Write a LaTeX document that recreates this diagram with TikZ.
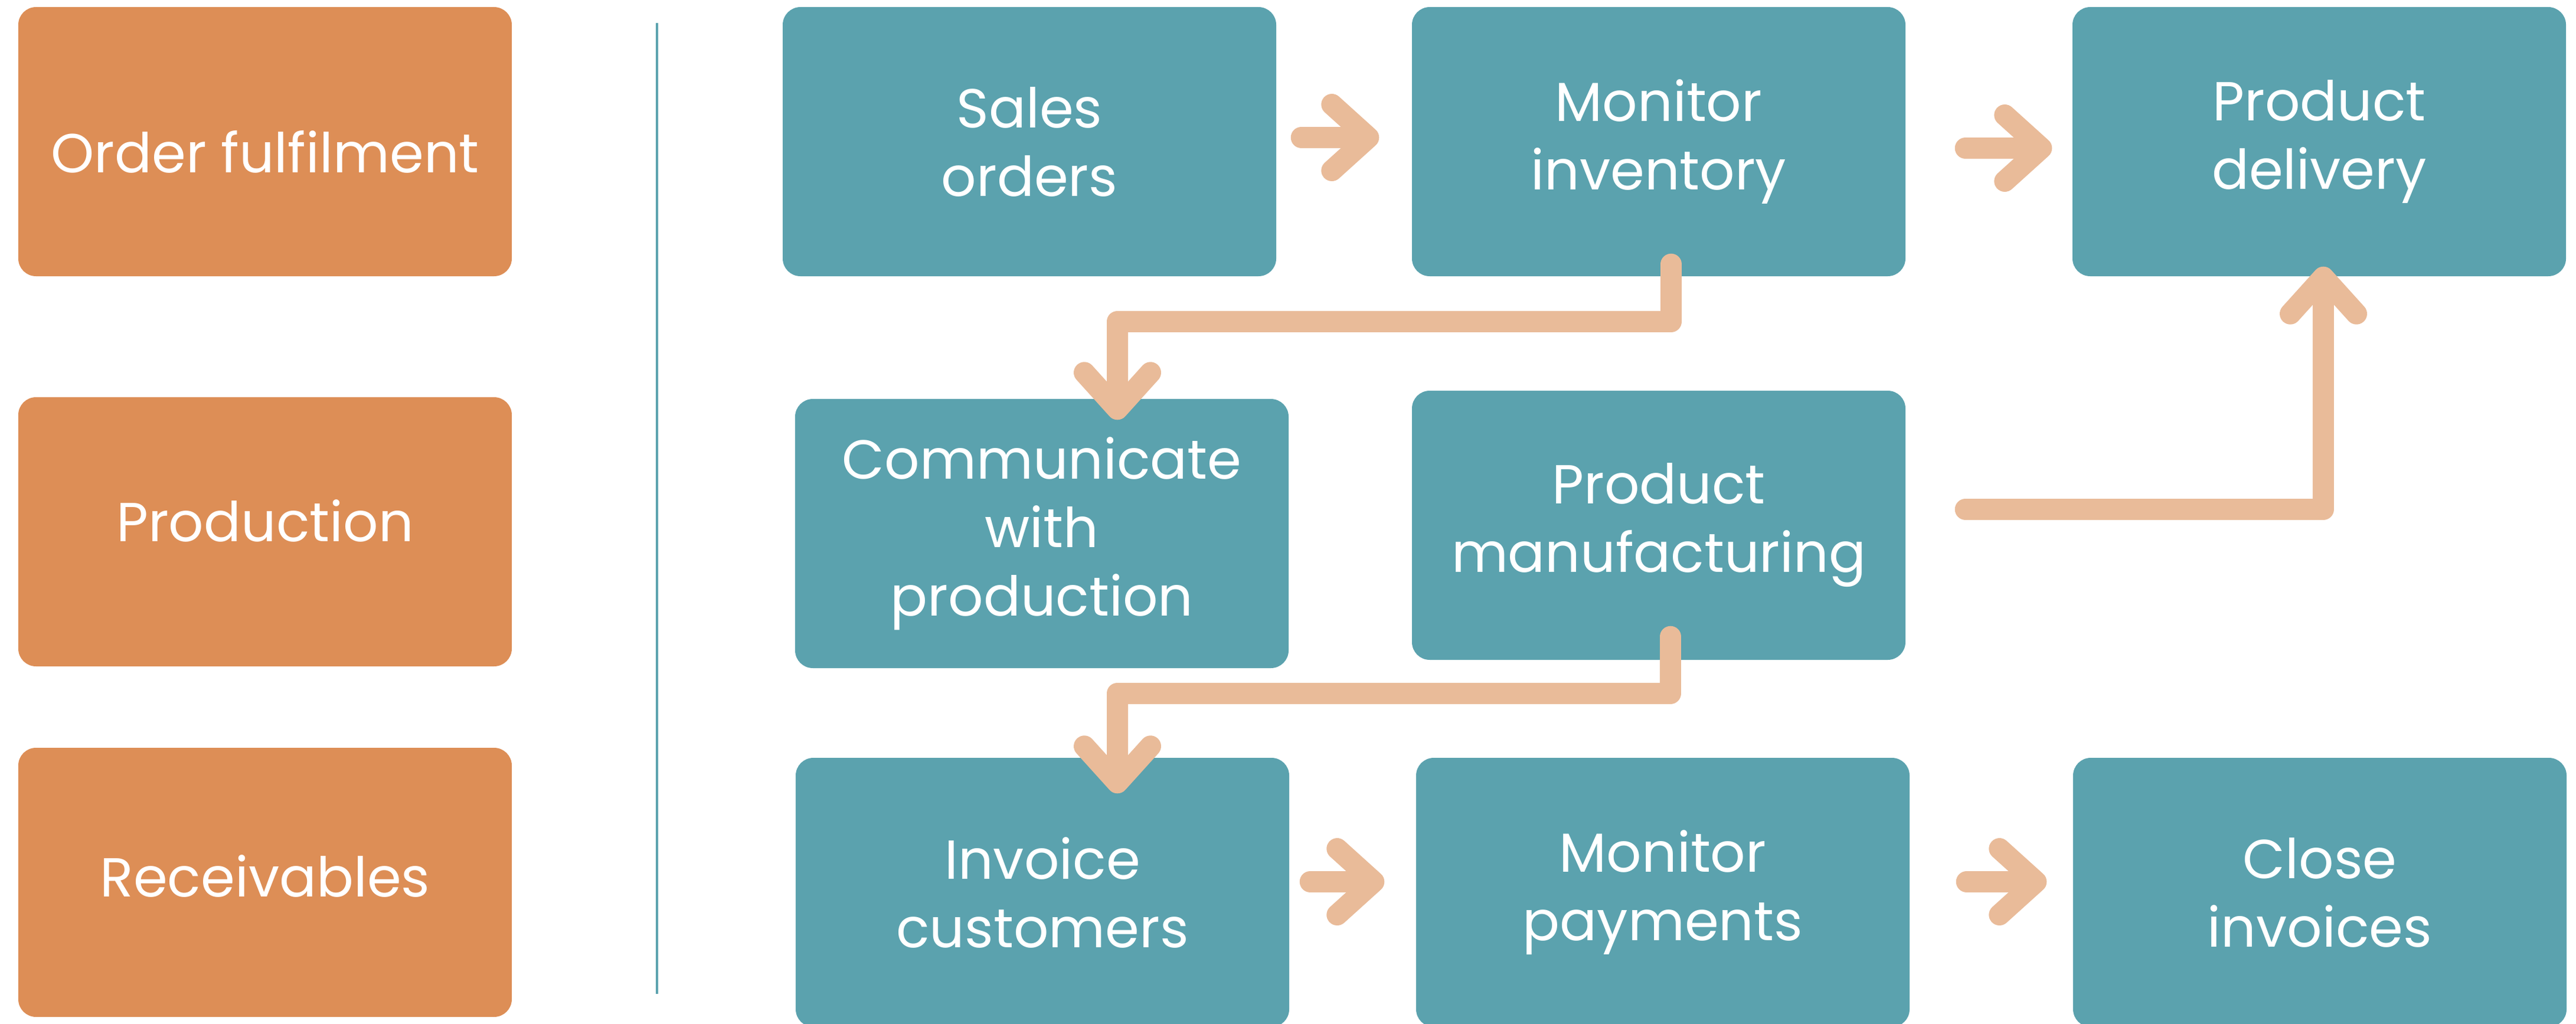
\documentclass[tikz,border=0pt]{standalone}
\usepackage{fontspec}
\setmainfont{Poppins}
\usepackage{tikz}
\usetikzlibrary{arrows.meta,  % pointes de fleches
           positioning}
\definecolor{orng}{RGB}{221,142,86}
\definecolor{bl}{RGB}{91,162,174}
\definecolor{pch}{RGB}{233,187,153}

\begin{document}
\begin{tikzpicture}[
    cat/.style={fill=orng,rounded corners=0.3cm,minimum width=8.36cm,minimum height=4.56cm,
        text=white,align=center,font=\fontsize{26.5}{33}\selectfont},
    act/.style={cat,fill=bl},
    flow/.style={draw=pch,line width=0.36cm,line cap=round,line join=round,
        -{Straight Barb[length=0.62cm,width=1.12cm,round]}}]
    \useasboundingbox (0,0) rectangle (43.64,-17.35);
    \node[cat](ordful)at(4.49,-2.40){\raisebox{-0.17cm}[\height][\depth]{Order fulfilment}};
    \node[cat](prod)at(4.49,-9.01){\raisebox{0.19cm}[\height][\depth]{Production}};
    \node[cat](recv)at(4.49,-14.95){\raisebox{0.11cm}[\height][\depth]{Receivables}};
    \coordinate(top)at(11.13,-0.39);
    \coordinate(bot)at(11.13,-16.84);
    \draw[bl,line width=0.04cm](top)--(bot);
    \node[act](sales)at(17.44,-2.40){Sales\\orders};
    \node[act](minv)at(28.10,-2.40){Monitor\\inventory};
    \node[act](deliv)at(39.29,-2.40){Product\\delivery};
    \node[act](comm)at(17.65,-9.04){Communicate\\with\\production};
    \node[act](manuf)at(28.10,-8.90){Product\\manufacturing};
    \node[act](invc)at(17.66,-15.12){Invoice\\customers};
    \node[act](mpay)at(28.17,-15.12){Monitor\\payments};
    \node[act](close)at(39.30,-15.12){Close\\invoices};
    \draw[flow]([xshift=0.42cm,yshift=0.07cm]sales.east)--([xshift=-0.55cm,yshift=0.07cm]minv.west);
    \draw[flow]([xshift=1.01cm,yshift=-0.11cm]minv.east)--([xshift=-0.34cm,yshift=-0.11cm]deliv.west);
    \draw[flow]([xshift=0.21cm,yshift=0.21cm]minv.south)--++(0,-0.97)-|([xshift=1.28cm,yshift=-0.36cm]comm.north);
    \draw[flow]([xshift=0.20cm,yshift=0.40cm]manuf.south)--++(0,-0.96)-|([xshift=1.27cm,yshift=-0.61cm]invc.north);
    \draw[flow]([xshift=1.01cm,yshift=0.27cm]manuf.east)-|([xshift=0.07cm,yshift=0.17cm]deliv.south);
    \draw[flow]([xshift=0.35cm,yshift=0.18cm]invc.east)--([xshift=-0.53cm,yshift=0.18cm]mpay.west);
    \draw[flow]([xshift=0.96cm,yshift=0.18cm]mpay.east)--([xshift=-0.44cm,yshift=0.18cm]close.west);
\end{tikzpicture}
\end{document}
